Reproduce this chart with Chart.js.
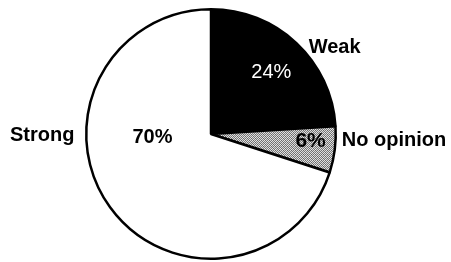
<!DOCTYPE html>
<html>
<head>
<meta charset="utf-8">
<script src="https://cdn.jsdelivr.net/npm/chart.js@4/dist/chart.umd.min.js"></script>
<style>
html,body{margin:0;padding:0;background:#fff;}
canvas{display:block;}
</style>
</head>
<body>
<canvas id="c" width="451" height="262"></canvas>
<script>
const categories = ["Weak", "No opinion", "Strong"];
const shares = [24, 6, 70];
const valueLabels = ["24%", "6%", "70%"];

// stipple pattern for the "No opinion" slice
function stipple() {
  const p = document.createElement('canvas');
  p.width = 4; p.height = 4;
  const g = p.getContext('2d');
  const shades = [
    ['#e6e6e6', '#6a6a6a', '#d8d8d8', '#7a7a7a'],
    ['#808080', '#dddddd', '#707070', '#e8e8e8'],
    ['#d4d4d4', '#777777', '#e2e2e2', '#666666'],
    ['#727272', '#e0e0e0', '#848484', '#d6d6d6']
  ];
  for (let y = 0; y < 4; y++) for (let x = 0; x < 4; x++) {
    g.fillStyle = shades[y][x];
    g.fillRect(x, y, 1, 1);
  }
  return g.createPattern(p, 'repeat');
}

// label placement relative to pie centre: angle (deg, clockwise from top), distance as fraction of radius
const labelPlan = [
  { inner: { a: 44.5, r: 0.69, font: '20px "Liberation Sans", Arial, sans-serif', color: '#fff' },
    outer: { a: 55, r: 1.21, align: 'center' } },
  { inner: { a: 94, r: 0.80, font: 'bold 21px "Liberation Sans", Arial, sans-serif', color: '#000' },
    outer: { a: 93, r: 1.05, align: 'left' } },
  { inner: { a: 267, r: 0.47, font: 'bold 20px "Liberation Sans", Arial, sans-serif', color: '#000' },
    outer: { a: 269.2, r: 1.095, align: 'right' } }
];

const labelPlugin = {
  id: 'pieLabels',
  afterDatasetsDraw(chart) {
    const ctx = chart.ctx;
    const meta = chart.getDatasetMeta(0);
    meta.data.forEach((arc, i) => {
      const cx = arc.x, cy = arc.y, R = arc.outerRadius;
      const plan = labelPlan[i];
      const pos = (a, r) => {
        const t = a * Math.PI / 180;
        return [cx + R * r * Math.sin(t), cy - R * r * Math.cos(t)];
      };
      ctx.save();
      ctx.textBaseline = 'middle';
      let [x, y] = pos(plan.inner.a, plan.inner.r);
      ctx.font = plan.inner.font;
      ctx.fillStyle = plan.inner.color;
      ctx.textAlign = 'center';
      ctx.fillText(valueLabels[i], x, y);
      [x, y] = pos(plan.outer.a, plan.outer.r);
      ctx.font = 'bold 20px "Liberation Sans", Arial, sans-serif';
      ctx.fillStyle = '#000';
      ctx.textAlign = plan.outer.align;
      ctx.fillText(categories[i], x, y);
      ctx.restore();
    });
  }
};

new Chart(document.getElementById('c'), {
  type: 'pie',
  data: {
    labels: categories,
    datasets: [{
      data: shares,
      backgroundColor: ['#000000', stipple(), '#ffffff'],
      borderColor: '#000000',
      borderWidth: 2.5,
      hoverOffset: 0
    }]
  },
  options: {
    responsive: false,
    animation: false,
    devicePixelRatio: 1,
    layout: { padding: { left: 85, right: 114, top: 8, bottom: 2 } },
    plugins: { legend: { display: false }, tooltip: { enabled: false } }
  },
  plugins: [labelPlugin]
});
</script>
</body>
</html>
